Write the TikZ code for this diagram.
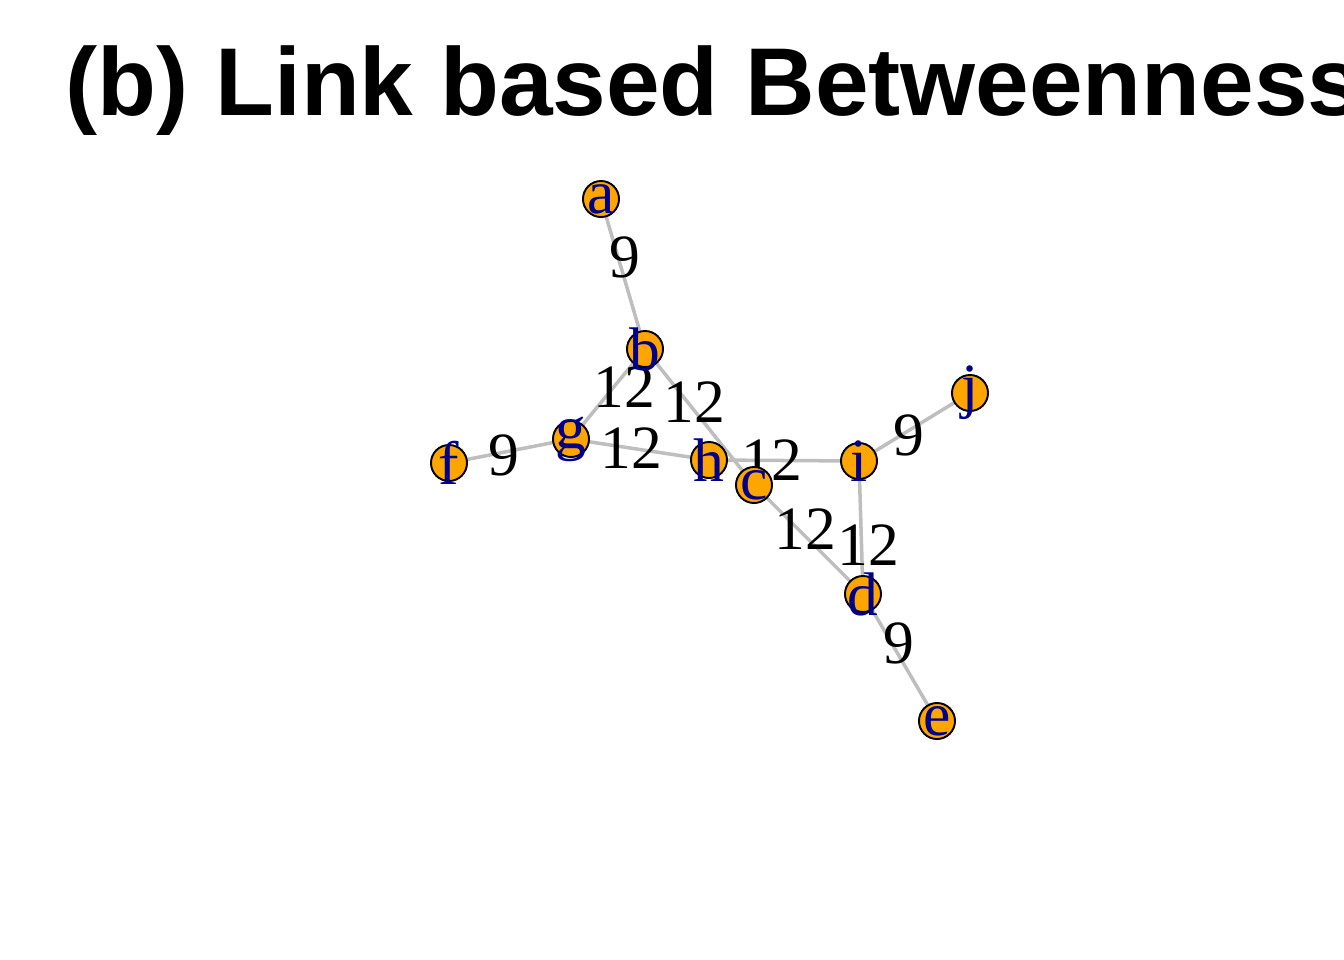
\documentclass[tikz,border=0pt]{standalone}
\usepackage{fontspec}
\setmainfont{Liberation Serif}
\newfontfamily\titlefont{Liberation Sans}
\usetikzlibrary{positioning, backgrounds}
\definecolor{vorange}{RGB}{255,165,0}
\definecolor{vblue}{RGB}{0,0,139}
\definecolor{egray}{RGB}{190,190,190}
\tikzset{
    vertex/.style={draw, circle, fill=vorange, minimum size=0.36cm, inner sep=0pt, line width=0.55pt, label={[vlbl]center:#1}},
    vlbl/.style={text=vblue, font=\fontsize{17.5}{18}\selectfont, inner sep=0pt},
    edge/.style={draw=egray, line width=1pt},
    elbl/.style={font=\fontsize{17.5}{18}\selectfont, inner sep=0pt},
    heading/.style={anchor=base west, inner sep=0pt, font=\titlefont\bfseries\fontsize{27.4}{30}\selectfont},
}
\begin{document}
\begin{tikzpicture}[x=0.01cm, y=-0.01cm]
        \useasboundingbox (0,0) rectangle (1344,960);
        % Title
        \node[heading] (title) at (65,115) {(b) Link based Betweenness};
        % Vertices
        \node[vertex=a] (a) at (601,199) {};
        \node[vertex=b] (b) at (645,349) {};
        \node[vertex=g] (g) at (571,439) {};
        \node[vertex=f] (f) at (449,463) {};
        \node[vertex=h] (h) at (709,460) {};
        \node[vertex=c] (c) at (754,485) {};
        \node[vertex=i] (i) at (859,461) {};
        \node[vertex=j] (j) at (970,393) {};
        \node[vertex=d] (d) at (863,594) {};
        \node[vertex=e] (e) at (937,721) {};
        % Links with their betweenness
        \begin{scope}[on background layer]
        \draw[edge] (a.center) -- node[elbl, pos=0.39, xshift=2pt] (lab) {9} (b.center);
        \draw[edge] (b.center) -- node[elbl, pos=0.42, xshift=3pt] (lbg) {12} (g.center);
        \draw[edge] (b.center) -- node[elbl, pos=0.39, xshift=2pt] (lbc) {12} (c.center);
        \draw[edge] (f.center) -- node[elbl, pos=0.45, yshift=-1pt] (lfg) {9} (g.center);
        \draw[edge] (g.center) -- node[elbl, pos=0.44] (lgh) {12} (h.center);
        \draw[edge] (h.center) -- node[elbl, pos=0.42] (lhi) {12} (i.center);
        \draw[edge] (c.center) -- node[elbl, pos=0.47, yshift=2pt] (lcd) {12} (d.center);
        \draw[edge] (i.center) -- node[elbl, pos=0.63, xshift=2pt] (lid) {12} (d.center);
        \draw[edge] (i.center) -- node[elbl, pos=0.45, yshift=-1.5pt] (lij) {9} (j.center);
        \draw[edge] (d.center) -- node[elbl, pos=0.39, xshift=2pt] (lde) {9} (e.center);
        \end{scope}
    \end{tikzpicture}
\end{document}
